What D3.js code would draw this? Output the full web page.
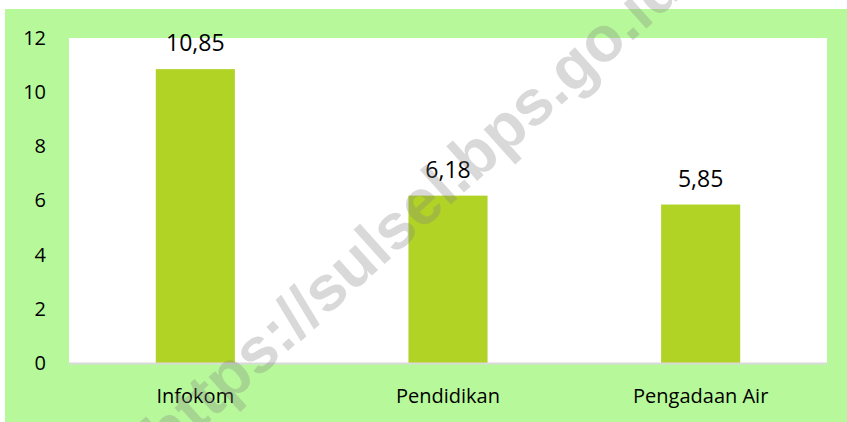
<!DOCTYPE html>
<html>
<head>
<meta charset="utf-8">
<script src="https://cdn.jsdelivr.net/npm/d3@7"></script>
<style>
  html, body { margin: 0; padding: 0; background: #fff; }
  svg { display: block; }
</style>
</head>
<body>
<div id="chart"></div>
<script>
const categories = ['Infokom', 'Pendidikan', 'Pengadaan Air'];
const values = [10.85, 6.18, 5.85];
const valueLabels = ['10,85', '6,18', '5,85'];
const yTicks = [0, 2, 4, 6, 8, 10, 12];
const watermark = 'https://sulsel.bps.go.id';

const W = 847, H = 422;
const plot = {left: 69, right: 827, top: 38, bottom: 363};
const font = '"Open Sans", "Noto Sans", sans-serif';

const svg = d3.select('#chart').append('svg')
  .attr('width', W)
  .attr('height', H);

// outer green panel
svg.append('rect')
  .attr('x', 5).attr('y', 9)
  .attr('width', W - 5).attr('height', H - 9)
  .attr('fill', '#b7f99a');

// plot area
svg.append('rect')
  .attr('x', plot.left).attr('y', plot.top)
  .attr('width', plot.right - plot.left)
  .attr('height', plot.bottom - plot.top)
  .attr('fill', '#ffffff');

const x = d3.scaleBand()
  .domain(categories)
  .range([plot.left, plot.right])
  .paddingInner(0.687)
  .paddingOuter(0.3435);

const y = d3.scaleLinear()
  .domain([0, 12])
  .range([plot.bottom, plot.top]);

// bars
svg.append('g')
  .selectAll('rect')
  .data(values)
  .join('rect')
  .attr('x', (d, i) => x(categories[i]))
  .attr('y', d => y(d))
  .attr('width', x.bandwidth())
  .attr('height', d => y(0) - y(d))
  .attr('fill', '#b0d325');

// baseline
svg.append('line')
  .attr('x1', plot.left).attr('x2', plot.right)
  .attr('y1', y(0) + 0.5).attr('y2', y(0) + 0.5)
  .attr('stroke', '#d9d9d9')
  .attr('stroke-width', 2);

// y axis labels
const yAxis = svg.append('g')
  .attr('transform', `translate(${plot.left - 23},0)`)
  .call(d3.axisLeft(y).tickValues(yTicks).tickSize(0).tickPadding(0));
yAxis.select('.domain').remove();
yAxis.selectAll('text')
  .attr('font-family', font)
  .attr('font-size', 20)
  .attr('fill', '#000');

// x axis labels
const xAxis = svg.append('g')
  .attr('transform', `translate(0,${plot.bottom})`)
  .call(d3.axisBottom(x).tickSize(0).tickPadding(0));
xAxis.select('.domain').remove();
xAxis.selectAll('text')
  .attr('dy', null)
  .attr('y', 40)
  .attr('font-family', font)
  .attr('font-size', 20)
  .attr('fill', '#000');

// value labels
svg.append('g')
  .selectAll('text')
  .data(values)
  .join('text')
  .attr('x', (d, i) => x(categories[i]) + x.bandwidth() / 2)
  .attr('y', d => y(d) - 18)
  .attr('text-anchor', 'middle')
  .attr('font-family', font)
  .attr('font-size', 23)
  .attr('fill', '#000')
  .text((d, i) => valueLabels[i]);

// watermark (runs off the picture edges, as in the source)
svg.append('text')
  .attr('transform', 'translate(415,214) rotate(-42)')
  .attr('text-anchor', 'middle')
  .attr('dominant-baseline', 'middle')
  .attr('font-family', '"Liberation Sans", Arial, sans-serif')
  .attr('font-weight', 'bold')
  .attr('font-size', 64)
  .attr('fill', '#808080')
  .attr('fill-opacity', 0.3)
  .text(watermark);
</script>
</body>
</html>
